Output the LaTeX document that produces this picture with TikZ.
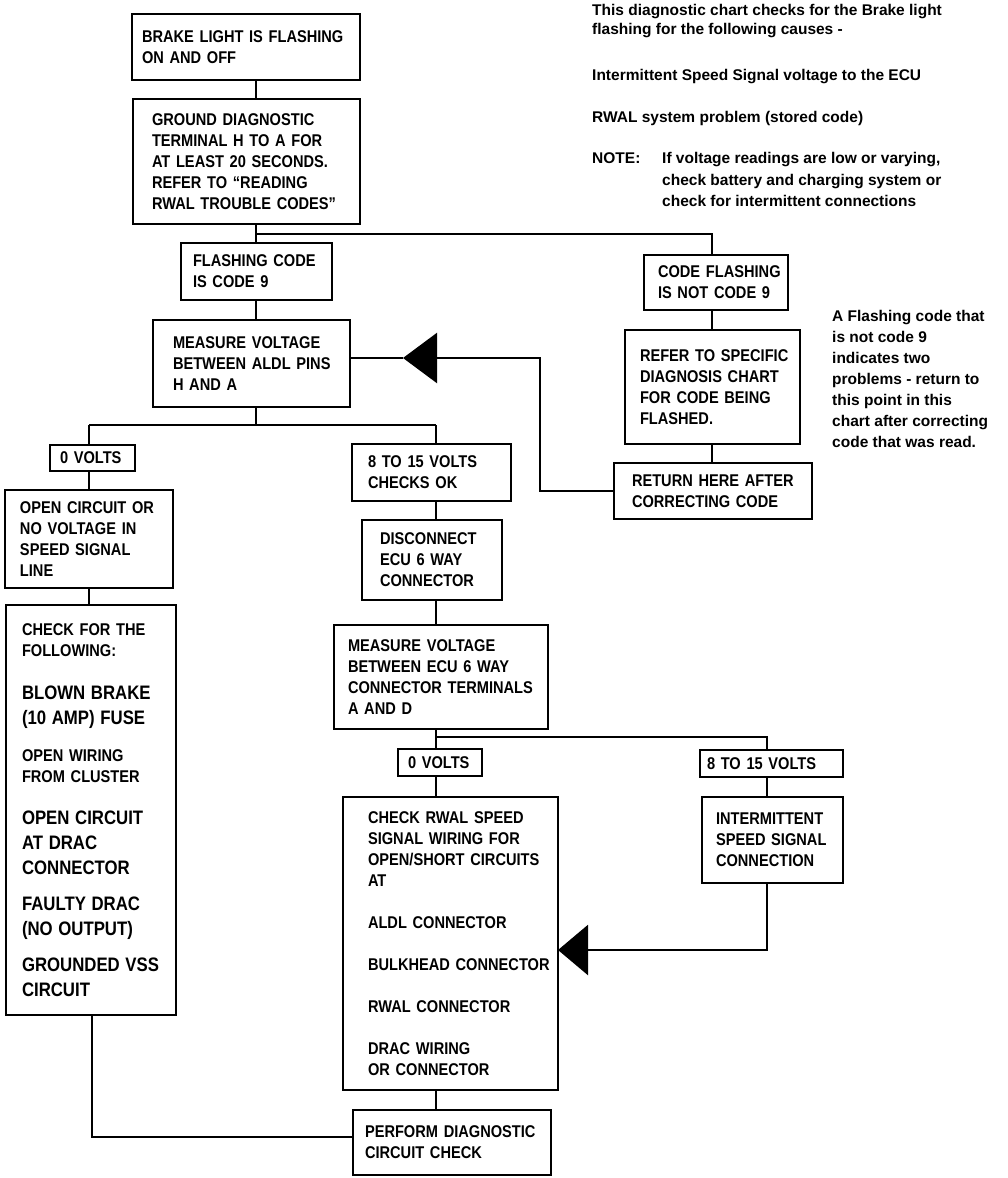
\documentclass[tikz,border=0pt]{standalone}
\usepackage{fontspec}
\setmainfont{Liberation Sans}[FakeStretch=0.86]
\newfontfamily\notefam{Liberation Sans}
\usetikzlibrary{arrows.meta}
\newcommand\bxsm{\fontsize{17}{21}\selectfont}
\newcommand\bxbg{\fontsize{19.5}{25}\selectfont}
\newcommand\bx[7]{%
  \pgfmathsetmacro\bxwd{#4-#2}%
  \pgfmathsetmacro\bxht{#5-#3}%
  \node[box, anchor=north west, minimum width=\bxwd pt, minimum height=\bxht pt,
        text width=\bxwd pt] (#1) at (#2,#3) {\leftskip=#6pt\relax\hyphenpenalty=10000\relax #7\par};}
\tikzset{
  box/.style={draw, line width=2.4pt, inner xsep=0pt, inner ysep=0pt, outer sep=0pt,
              align=left, font=\bfseries\bxsm},
  link/.style={line width=2.4pt},
  note/.style={inner sep=0pt, anchor=base west, font=\notefam\bfseries\fontsize{15.5}{20}\selectfont},
  bigtip/.style={-{Triangle[length=34pt,width=50pt]}},
  lowtip/.style={-{Triangle[length=30pt,width=50pt]}}
}
\begin{document}
\begin{tikzpicture}[x=1pt,y=-1pt]
\fill[white] (0,0) rectangle (1008,1178);
\useasboundingbox (0,0) rectangle (1008,1178);

% boxes
\bx{b1}{132}{14}{360}{80}{10}{BRAKE LIGHT IS FLASHING\\ON AND OFF}
\bx{b2}{133}{99}{360}{224}{19}{GROUND DIAGNOSTIC\\TERMINAL H TO A FOR\\AT LEAST 20 SECONDS.\\REFER TO “READING\\RWAL TROUBLE CODES”}
\bx{b3}{181}{243}{332}{300}{12}{FLASHING CODE\\IS CODE 9}
\bx{b4}{153}{320}{350}{407}{20}{MEASURE VOLTAGE\\BETWEEN ALDL PINS\\H AND A}
\bx{v0a}{50}{445}{135}{471}{10}{0 VOLTS}
\bx{oc}{5}{490}{173}{588}{15}{OPEN CIRCUIT OR\\NO VOLTAGE IN\\SPEED SIGNAL\\LINE}
\bx{cf}{6}{605}{176}{1015}{16}{CHECK FOR THE\\FOLLOWING:\par
\vspace{18.5pt}{\bxbg BLOWN BRAKE\\(10 AMP) FUSE\par}
\vspace{15.5pt}OPEN WIRING\\FROM CLUSTER\par
\vspace{17.5pt}{\bxbg OPEN CIRCUIT\\AT DRAC\\CONNECTOR\par}
\vspace{11pt}{\bxbg FAULTY DRAC\\(NO OUTPUT)\par}
\vspace{11pt}{\bxbg GROUNDED VSS\\CIRCUIT\par}}
\bx{v8a}{352}{444}{511}{501}{16}{8 TO 15 VOLTS\\CHECKS OK}
\bx{dc}{362}{520}{502}{600}{18}{DISCONNECT\\ECU 6 WAY\\CONNECTOR}
\bx{me}{334}{625}{548}{729}{14}{MEASURE VOLTAGE\\BETWEEN ECU 6 WAY\\CONNECTOR TERMINALS\\A AND D}
\bx{v0b}{398}{749}{482}{776}{10}{0 VOLTS}
\bx{v8b}{700}{750}{843}{777}{7}{8 TO 15 VOLTS}
\bx{im}{702}{797}{843}{883}{14}{INTERMITTENT\\SPEED SIGNAL\\CONNECTION}
\bx{cr}{343}{797}{558}{1090}{25}{CHECK RWAL SPEED\\SIGNAL WIRING FOR\\OPEN/SHORT CIRCUITS\\AT\\[21pt]ALDL CONNECTOR\\[21pt]BULKHEAD CONNECTOR\\[21pt]RWAL CONNECTOR\\[21pt]DRAC WIRING\\OR CONNECTOR}
\bx{pf}{353}{1110}{551}{1175}{12}{PERFORM DIAGNOSTIC\\CIRCUIT CHECK}
\bx{cn}{644}{255}{788}{310}{14}{CODE FLASHING\\IS NOT CODE 9}
\bx{rf}{625}{330}{800}{444}{15}{REFER TO SPECIFIC\\DIAGNOSIS CHART\\FOR CODE BEING\\FLASHED.}
\bx{rt}{614}{463}{812}{519}{18}{RETURN HERE AFTER\\CORRECTING CODE}

% notes
\node[note] (n1) at (592,15) {This diagnostic chart checks for the Brake light};
\node[note] (n2) at (592,34) {flashing for the following causes -};
\node[note] (n3) at (592,80) {Intermittent Speed Signal voltage to the ECU};
\node[note] (n4) at (592,122) {RWAL system problem (stored code)};
\node[note] (n5) at (592,163) {NOTE:};
\node[note] (n6) at (662,163) {If voltage readings are low or varying,};
\node[note] (n7) at (662,185) {check battery and charging system or};
\node[note] (n8) at (662,206) {check for intermittent connections};
\node[note] (r1) at (832,321) {A Flashing code that};
\node[note] (r2) at (832,342) {is not code 9};
\node[note] (r3) at (832,363) {indicates two};
\node[note] (r4) at (832,384) {problems - return to};
\node[note] (r5) at (832,405) {this point in this};
\node[note] (r6) at (832,426) {chart after correcting};
\node[note] (r7) at (832,447) {code that was read.};

% junction coordinates
\coordinate (j1) at (256,234);
\coordinate (jr) at (712,234);
\coordinate (j2) at (256,425);
\coordinate (j2l) at (89,425);
\coordinate (j2r) at (436,425);
\coordinate (jb) at (92,1137);
\coordinate (j3) at (436,737);
\coordinate (j3r) at (767,737);
\coordinate (j4) at (767,950);
\coordinate (j6) at (540,358);
\coordinate (ta) at (403,358);

% connectors
\draw[link] (j1 |- b1.south) -- (j1 |- b2.north);
\draw[link] (j1 |- b2.south) -- (j1 |- b3.north);
\draw[link] (j1) -- (jr) -- (jr |- cn.north);
\draw[link] (jr |- cn.south) -- (jr |- rf.north);
\draw[link] (jr |- rf.south) -- (jr |- rt.north);
\draw[link] (j1 |- b3.south) -- (j1 |- b4.north);
\draw[link] (j1 |- b4.south) -- (j2);
\draw[link] (j2l) -- (j2r);
\draw[link] (j2l) -- (j2l |- v0a.north);
\draw[link] (j2r) -- (j2r |- v8a.north);
\draw[link] (j2l |- v0a.south) -- (j2l |- oc.north);
\draw[link] (j2l |- oc.south) -- (j2l |- cf.north);
\draw[link] (jb |- cf.south) -- (jb) -- (jb -| pf.west);
\draw[link] (j2r |- v8a.south) -- (j2r |- dc.north);
\draw[link] (j2r |- dc.south) -- (j2r |- me.north);
\draw[link] (j3 |- me.south) -- (j3 |- v0b.north);
\draw[link] (j3) -- (j3r) -- (j3r |- v8b.north);
\draw[link] (j3 |- v0b.south) -- (j3 |- cr.north);
\draw[link] (j3 |- cr.south) -- (j3 |- pf.north);
\draw[link] (j3r |- v8b.south) -- (j3r |- im.north);
\draw[link,lowtip] (j3r |- im.south) -- (j4) -- (j4 -| cr.east);
\draw[link,bigtip] (rt.west) -| (j6) -- (ta);
\draw[link] (ta) -- (ta -| b4.east);
\end{tikzpicture}
\end{document}
